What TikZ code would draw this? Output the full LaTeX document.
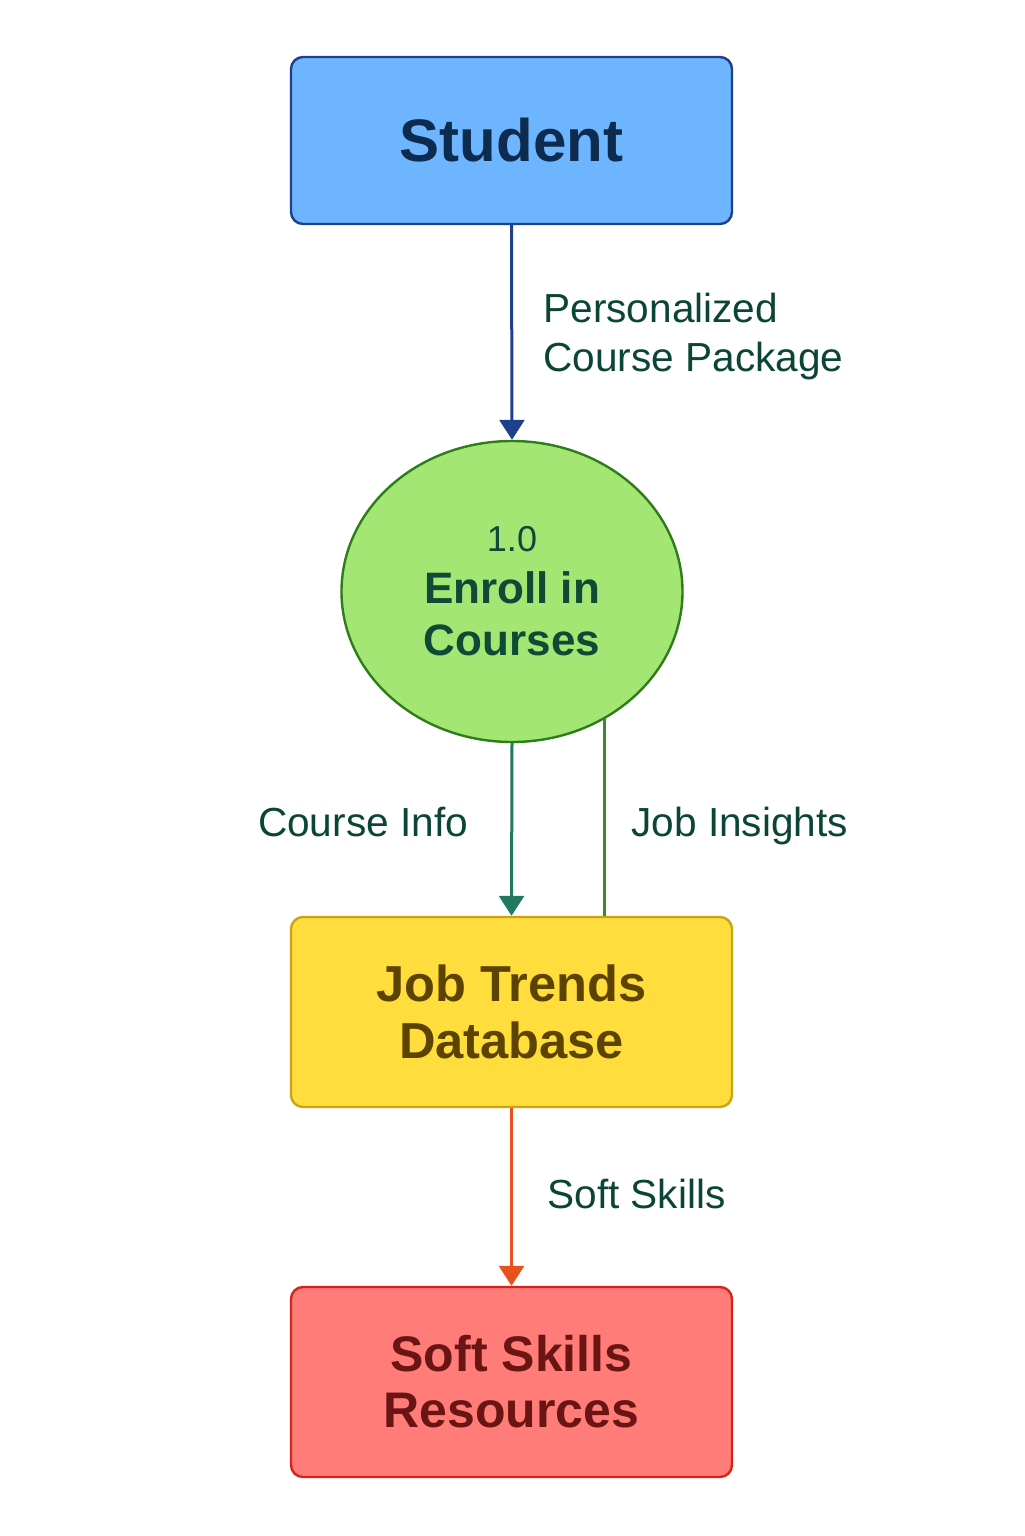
\documentclass[tikz,border=0pt]{standalone}
\usepackage{fontspec}
\setmainfont{Liberation Sans}
\usetikzlibrary{arrows.meta,shapes.geometric}
\definecolor{stuFill}{HTML}{6DB5FF}
\definecolor{stuDraw}{HTML}{1F3F8F}
\definecolor{stuText}{HTML}{0D2A4F}
\definecolor{enFill}{HTML}{A4E673}
\definecolor{enDraw}{HTML}{2E7D1A}
\definecolor{enText}{HTML}{0E4A36}
\definecolor{jbFill}{HTML}{FFDD3C}
\definecolor{jbDraw}{HTML}{C9A514}
\definecolor{jbText}{HTML}{5C4300}
\definecolor{ssFill}{HTML}{FF7C78}
\definecolor{ssDraw}{HTML}{D9231A}
\definecolor{ssText}{HTML}{6B1414}
\definecolor{lblText}{HTML}{0B4535}
\definecolor{arBlue}{HTML}{1F3F8F}
\definecolor{arTeal}{HTML}{1F7A5F}
\definecolor{arGreen}{HTML}{3A8A2A}
\definecolor{arOrange}{HTML}{E8501E}
\tikzset{
  entity/.style={draw, line width=1.2pt, rounded corners=6pt, minimum width=220.5pt, inner sep=0pt, align=center},
  process/.style={ellipse, draw, line width=1.2pt, minimum width=170.5pt, minimum height=150.5pt, inner sep=0pt, align=center, fill=enFill, draw=enDraw, text=enText, font=\fontsize{22}{26}\selectfont\bfseries},
  flow/.style={line width=1.5pt, -{Triangle[width=12.5pt,length=10pt]}},
  flowlbl/.style={text=lblText, font=\fontsize{20.3}{24}\selectfont, inner sep=0pt}
}
\begin{document}
\begin{tikzpicture}[x=0.5pt,y=-0.5pt]
\useasboundingbox[fill=white] (0,0) rectangle (1024,1536);
\node[entity, fill=stuFill, draw=stuDraw, text=stuText, minimum height=83.5pt, font=\fontsize{30}{34}\selectfont\bfseries] (stu) at (511.5,140.5) {Student};
\node[process] (en) at (512,591.5) {{\mdseries\fontsize{18}{26}\selectfont 1.0}\\Enroll in\\Courses};
\node[entity, fill=jbFill, draw=jbDraw, text=jbText, minimum height=95pt, font=\fontsize{25.3}{28.5}\selectfont\bfseries] (jb) at (511.5,1012) {Job Trends\\Database};
\node[entity, fill=ssFill, draw=ssDraw, text=ssText, minimum height=95pt, font=\fontsize{25}{28}\selectfont\bfseries] (ss) at (511.5,1382) {Soft Skills\\Resources};
\draw[flow, draw=arBlue, fill=arBlue] (stu.south) -- (en.north);
\draw[flow, draw=arTeal, fill=arTeal] (en.south) -- (jb.north);
\draw[line width=1.3pt, draw=arGreen] (en.-54.8) -- (en.-54.8 |- jb.north);
\draw[flow, draw=arOrange, fill=arOrange] (jb.south) -- (ss.north);
\node[flowlbl, anchor=base west] (l1a) at (543,322) {Personalized};
\node[flowlbl, anchor=base west] (l1b) at (543,371) {Course Package};
\node[flowlbl, anchor=base] (l2) at (363,836) {Course Info};
\node[flowlbl, anchor=base west] (l3) at (631,836) {Job Insights};
\node[flowlbl, anchor=base west] (l4) at (547,1208) {Soft Skills};
\end{tikzpicture}
\end{document}
